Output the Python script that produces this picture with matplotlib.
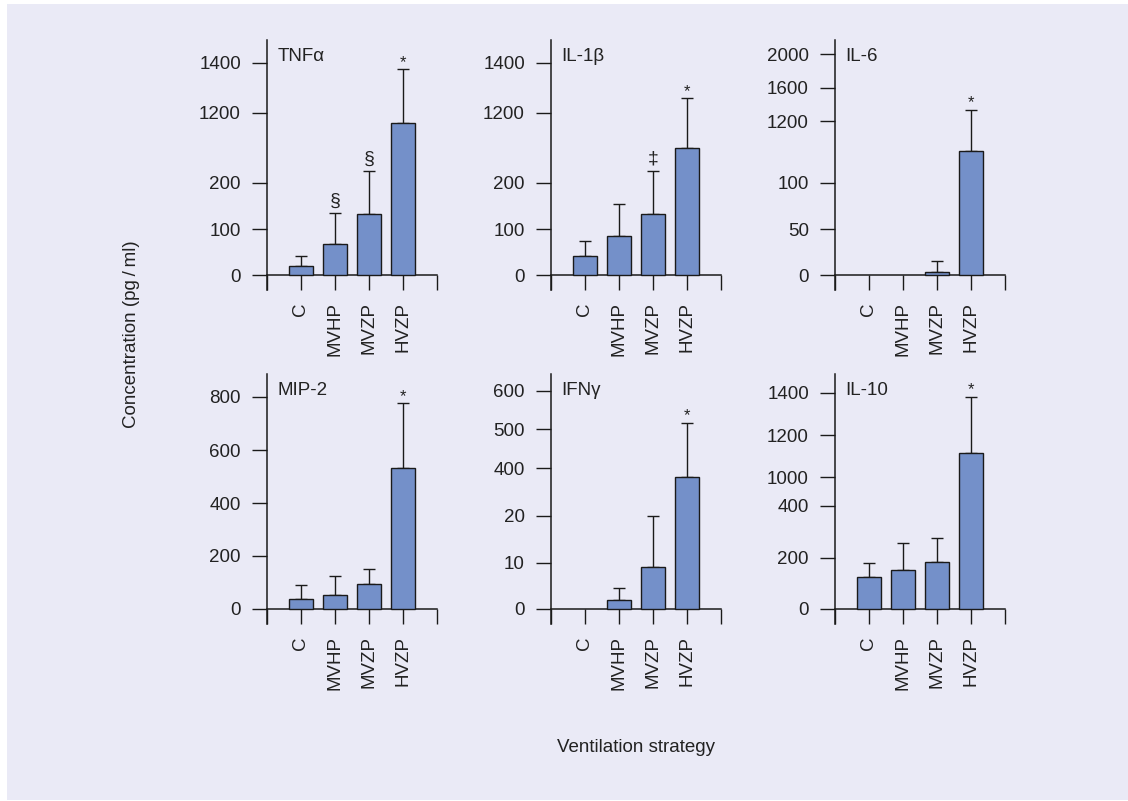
import numpy as np
import matplotlib
matplotlib.use("Agg")
import matplotlib.pyplot as plt
from matplotlib.patches import Rectangle

# Data: mean and SEM per ventilation strategy
groups = ["C", "MVHP", "MVZP", "HVZP"]
panels = ["TNFα", "IL-1β", "IL-6", "MIP-2", "IFNγ", "IL-10"]

tnf_mean = [20, 68, 132, 1057]
tnf_sem = [21, 66, 235, 317]
il1b_mean = [41, 85, 132, 691]
il1b_sem = [32, 68, 235, 567]
il6_mean = [0, 0, 3.3, 670]
il6_sem = [0, 0, 12.2, 662]
mip2_mean = [37, 51, 92, 532]
mip2_sem = [51, 74, 58, 243]
ifng_mean = [0, 1.8, 9.0, 333]
ifng_sem = [0, 2.8, 11.1, 183]
il10_mean = [124, 153, 182, 1113]
il10_sem = [56, 105, 94, 268]

tnf_sig = ["", "§", "§", "*"]
il1b_sig = ["", "", "‡", "*"]
il6_sig = ["", "", "", "*"]
mip2_sig = ["", "", "", "*"]
ifng_sig = ["", "", "", "*"]
il10_sig = ["", "", "", "*"]

# y tick values of each (broken) axis
tnf_ticks = [0, 100, 200, 1200, 1400]
il1b_ticks = [0, 100, 200, 1200, 1400]
il6_ticks = [0, 50, 100, 1200, 1600, 2000]
mip2_ticks = [0, 200, 400, 600, 800]
ifng_ticks = [0, 10, 20, 400, 500, 600]
il10_ticks = [0, 200, 400, 1000, 1200, 1400]

# layout: height (px above zero line) where each tick sits
tnf_tpos = [0, 46, 92.3, 162.3, 212.3]
il1b_tpos = [0, 46, 92.3, 162.3, 212.3]
il6_tpos = [0, 46, 92.3, 154, 187.3, 220.7]
mip2_tpos = [0, 53, 105.7, 158.4, 212]
ifng_tpos = [0, 46, 92.7, 140.4, 179.4, 218]
il10_tpos = [0, 51, 102.7, 131.4, 173.7, 216]

means = [tnf_mean, il1b_mean, il6_mean, mip2_mean, ifng_mean, il10_mean]
sems = [tnf_sem, il1b_sem, il6_sem, mip2_sem, ifng_sem, il10_sem]
sigs = [tnf_sig, il1b_sig, il6_sig, mip2_sig, ifng_sig, il10_sig]
ticks = [tnf_ticks, il1b_ticks, il6_ticks, mip2_ticks, ifng_ticks, il10_ticks]
tpos = [tnf_tpos, il1b_tpos, il6_tpos, mip2_tpos, ifng_tpos, il10_tpos]


def piecewise(xs, ys):
    xs = np.asarray(xs, float)
    ys = np.asarray(ys, float)
    s_lo = (ys[1] - ys[0]) / (xs[1] - xs[0])
    s_hi = (ys[-1] - ys[-2]) / (xs[-1] - xs[-2])

    def f(v):
        v = np.asarray(v, float)
        out = np.interp(v, xs, ys)
        out = np.where(v < xs[0], ys[0] + (v - xs[0]) * s_lo, out)
        out = np.where(v > xs[-1], ys[-1] + (v - xs[-1]) * s_hi, out)
        return out
    return f


plt.rcParams["font.family"] = ["Liberation Sans", "DejaVu Sans"]
text_col = "#222222"
line_col = "#1a1a1a"
bar_col = "#7490c9"
bg_col = "#eaeaf6"
fsize = 13.5

W, H = 1128, 801
fig = plt.figure(figsize=(W / 100, H / 100), dpi=100, facecolor="white")
fig.patches.append(Rectangle((7 / W, 1 / H), 1 - 7 / W, (800 - 4) / H,
                             transform=fig.transFigure, facecolor=bg_col,
                             edgecolor="none", zorder=-10))

spine_x = [267, 551, 835]
zero_y = [275, 608.7]
top_y = [40, 374]
below = 15
width_px = 170

sym_style = {"*": (12, 2.5), "§": (14, 7), "‡": (14, 8)}

for i, name in enumerate(panels):
    r, c = divmod(i, 3)
    left = spine_x[c]
    bottom = zero_y[r] + below
    height = bottom - top_y[r]
    ax = fig.add_axes([left / W, 1 - bottom / H, width_px / W, height / H])
    ax.set_facecolor("none")

    fwd = piecewise(ticks[i], tpos[i])
    inv = piecewise(tpos[i], ticks[i])
    ax.set_yscale("function", functions=(fwd, inv))
    ax.set_ylim(float(inv(-below)), float(inv(zero_y[r] - top_y[r])))
    ax.set_xlim(0, 5)

    x = np.arange(1, 5)
    m = np.array(means[i], float)
    s = np.array(sems[i], float)
    has_bar = m > 0
    has_err = s > 0
    ax.bar(x[has_bar], m[has_bar], width=0.71, color=bar_col,
           edgecolor=line_col, linewidth=1.0, zorder=3)
    ax.errorbar(x[has_err], m[has_err],
                yerr=[np.zeros(has_err.sum()), s[has_err]], fmt="none",
                ecolor=line_col, elinewidth=1.0, capsize=4.4, capthick=1.0,
                zorder=2)

    for xi, mi, si, sg in zip(x, m, s, sigs[i]):
        if sg:
            fs, off = sym_style[sg]
            ax.annotate(sg, xy=(xi, mi + si), xytext=(0, off * 0.72),
                        textcoords="offset points", ha="center",
                        va="baseline", fontsize=fs, color=text_col)

    ax.spines["top"].set_visible(False)
    ax.spines["right"].set_visible(False)
    ax.spines["bottom"].set_position(("data", 0))
    for sp in ("left", "bottom"):
        ax.spines[sp].set_color(line_col)
        ax.spines[sp].set_linewidth(1.1)

    ax.set_yticks(ticks[i])
    ax.set_yticklabels([str(t) for t in ticks[i]])
    ax.set_xticks(np.arange(0, 6))
    ax.set_xticklabels([""] + groups + [""], rotation=90)
    ax.tick_params(axis="y", direction="out", length=10.8, width=1.0,
                   pad=8, labelsize=fsize, colors=line_col, labelcolor=text_col)
    ax.tick_params(axis="x", direction="out", length=10.8, width=1.0,
                   pad=9, labelsize=fsize, colors=line_col, labelcolor=text_col)

    ax.annotate(name, xy=(0, 1), xycoords="axes fraction", xytext=(7.5, -12),
                textcoords="offset points", ha="left", va="center",
                fontsize=fsize, color=text_col)

fig.text(131.7 / W, 1 - 334 / H, "Concentration (pg\u2009/\u2009ml)",
         rotation=90, ha="center", va="center", fontsize=fsize, color=text_col)
fig.text(636 / W, 1 - 747 / H, "Ventilation strategy", ha="center",
         va="center", fontsize=fsize, color=text_col)

fig.savefig("out.png", dpi=100, facecolor="white")
